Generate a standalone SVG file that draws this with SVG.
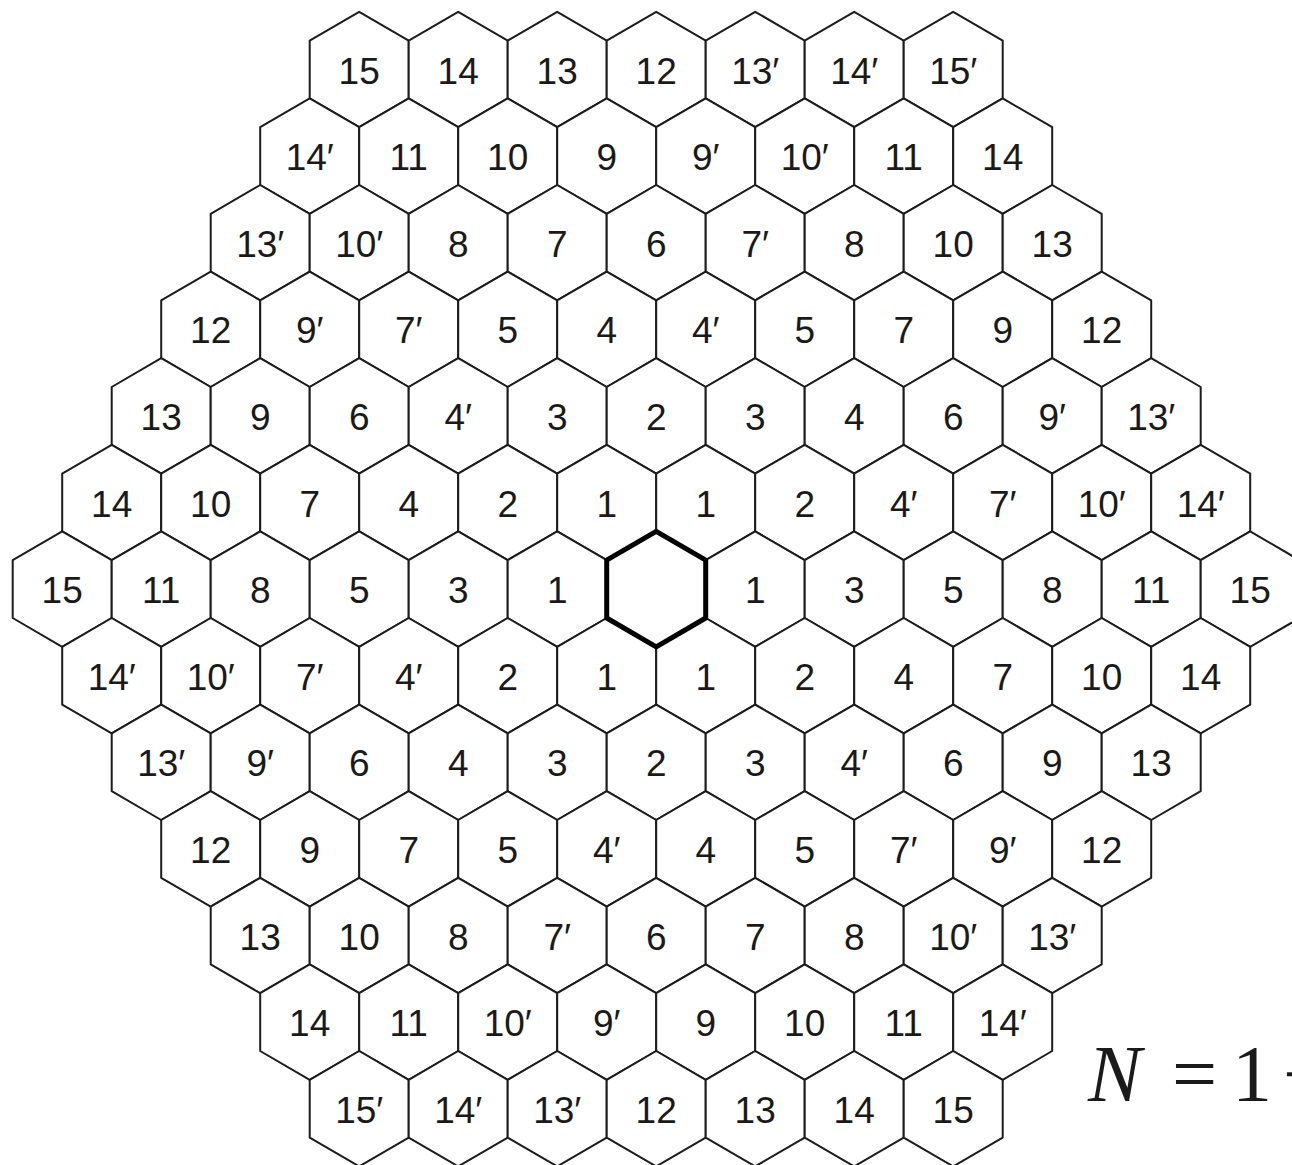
<svg xmlns="http://www.w3.org/2000/svg" xmlns:xlink="http://www.w3.org/1999/xlink" width="1292" height="1165" viewBox="0 0 1292 1165">
<style>
.h{fill:#fff;stroke:#1c1c1c;stroke-width:2;stroke-linejoin:round}
.c{fill:#fff;stroke:#000;stroke-width:5;stroke-linejoin:round}
text{font-family:"Liberation Sans",Arial,sans-serif;font-size:37px;fill:#1a1a1a;text-anchor:middle}
.f{font-family:"Liberation Serif","Times New Roman",serif;font-size:80px;fill:#1a1a1a;text-anchor:start}
</style>
<defs>
<polygon id="hex" points="0,-57.7 49.5,-28.9 49.5,28.9 0,57.7 -49.5,28.9 -49.5,-28.9"/>
</defs>
<rect width="1292" height="1165" fill="#fff"/>
<g id="nodes">
<!-- row 0 -->
<g id="n0_0" transform="translate(359.2,69.5)"><use href="#hex" class="h"/><text y="14">15</text></g>
<g id="n0_1" transform="translate(458.2,69.5)"><use href="#hex" class="h"/><text y="14">14</text></g>
<g id="n0_2" transform="translate(557.2,69.5)"><use href="#hex" class="h"/><text y="14">13</text></g>
<g id="n0_3" transform="translate(656.2,69.5)"><use href="#hex" class="h"/><text y="14">12</text></g>
<g id="n0_4" transform="translate(755.2,69.5)"><use href="#hex" class="h"/><text y="14">13′</text></g>
<g id="n0_5" transform="translate(854.2,69.5)"><use href="#hex" class="h"/><text y="14">14′</text></g>
<g id="n0_6" transform="translate(953.2,69.5)"><use href="#hex" class="h"/><text y="14">15′</text></g>
<!-- row 1 -->
<g id="n1_0" transform="translate(309.7,156.1)"><use href="#hex" class="h"/><text y="14">14′</text></g>
<g id="n1_1" transform="translate(408.7,156.1)"><use href="#hex" class="h"/><text y="14">11</text></g>
<g id="n1_2" transform="translate(507.7,156.1)"><use href="#hex" class="h"/><text y="14">10</text></g>
<g id="n1_3" transform="translate(606.7,156.1)"><use href="#hex" class="h"/><text y="14">9</text></g>
<g id="n1_4" transform="translate(705.7,156.1)"><use href="#hex" class="h"/><text y="14">9′</text></g>
<g id="n1_5" transform="translate(804.7,156.1)"><use href="#hex" class="h"/><text y="14">10′</text></g>
<g id="n1_6" transform="translate(903.7,156.1)"><use href="#hex" class="h"/><text y="14">11</text></g>
<g id="n1_7" transform="translate(1002.7,156.1)"><use href="#hex" class="h"/><text y="14">14</text></g>
<!-- row 2 -->
<g id="n2_0" transform="translate(260.2,242.7)"><use href="#hex" class="h"/><text y="14">13′</text></g>
<g id="n2_1" transform="translate(359.2,242.7)"><use href="#hex" class="h"/><text y="14">10′</text></g>
<g id="n2_2" transform="translate(458.2,242.7)"><use href="#hex" class="h"/><text y="14">8</text></g>
<g id="n2_3" transform="translate(557.2,242.7)"><use href="#hex" class="h"/><text y="14">7</text></g>
<g id="n2_4" transform="translate(656.2,242.7)"><use href="#hex" class="h"/><text y="14">6</text></g>
<g id="n2_5" transform="translate(755.2,242.7)"><use href="#hex" class="h"/><text y="14">7′</text></g>
<g id="n2_6" transform="translate(854.2,242.7)"><use href="#hex" class="h"/><text y="14">8</text></g>
<g id="n2_7" transform="translate(953.2,242.7)"><use href="#hex" class="h"/><text y="14">10</text></g>
<g id="n2_8" transform="translate(1052.2,242.7)"><use href="#hex" class="h"/><text y="14">13</text></g>
<!-- row 3 -->
<g id="n3_0" transform="translate(210.7,329.3)"><use href="#hex" class="h"/><text y="14">12</text></g>
<g id="n3_1" transform="translate(309.7,329.3)"><use href="#hex" class="h"/><text y="14">9′</text></g>
<g id="n3_2" transform="translate(408.7,329.3)"><use href="#hex" class="h"/><text y="14">7′</text></g>
<g id="n3_3" transform="translate(507.7,329.3)"><use href="#hex" class="h"/><text y="14">5</text></g>
<g id="n3_4" transform="translate(606.7,329.3)"><use href="#hex" class="h"/><text y="14">4</text></g>
<g id="n3_5" transform="translate(705.7,329.3)"><use href="#hex" class="h"/><text y="14">4′</text></g>
<g id="n3_6" transform="translate(804.7,329.3)"><use href="#hex" class="h"/><text y="14">5</text></g>
<g id="n3_7" transform="translate(903.7,329.3)"><use href="#hex" class="h"/><text y="14">7</text></g>
<g id="n3_8" transform="translate(1002.7,329.3)"><use href="#hex" class="h"/><text y="14">9</text></g>
<g id="n3_9" transform="translate(1101.7,329.3)"><use href="#hex" class="h"/><text y="14">12</text></g>
<!-- row 4 -->
<g id="n4_0" transform="translate(161.2,415.9)"><use href="#hex" class="h"/><text y="14">13</text></g>
<g id="n4_1" transform="translate(260.2,415.9)"><use href="#hex" class="h"/><text y="14">9</text></g>
<g id="n4_2" transform="translate(359.2,415.9)"><use href="#hex" class="h"/><text y="14">6</text></g>
<g id="n4_3" transform="translate(458.2,415.9)"><use href="#hex" class="h"/><text y="14">4′</text></g>
<g id="n4_4" transform="translate(557.2,415.9)"><use href="#hex" class="h"/><text y="14">3</text></g>
<g id="n4_5" transform="translate(656.2,415.9)"><use href="#hex" class="h"/><text y="14">2</text></g>
<g id="n4_6" transform="translate(755.2,415.9)"><use href="#hex" class="h"/><text y="14">3</text></g>
<g id="n4_7" transform="translate(854.2,415.9)"><use href="#hex" class="h"/><text y="14">4</text></g>
<g id="n4_8" transform="translate(953.2,415.9)"><use href="#hex" class="h"/><text y="14">6</text></g>
<g id="n4_9" transform="translate(1052.2,415.9)"><use href="#hex" class="h"/><text y="14">9′</text></g>
<g id="n4_10" transform="translate(1151.2,415.9)"><use href="#hex" class="h"/><text y="14">13′</text></g>
<!-- row 5 -->
<g id="n5_0" transform="translate(111.7,502.5)"><use href="#hex" class="h"/><text y="14">14</text></g>
<g id="n5_1" transform="translate(210.7,502.5)"><use href="#hex" class="h"/><text y="14">10</text></g>
<g id="n5_2" transform="translate(309.7,502.5)"><use href="#hex" class="h"/><text y="14">7</text></g>
<g id="n5_3" transform="translate(408.7,502.5)"><use href="#hex" class="h"/><text y="14">4</text></g>
<g id="n5_4" transform="translate(507.7,502.5)"><use href="#hex" class="h"/><text y="14">2</text></g>
<g id="n5_5" transform="translate(606.7,502.5)"><use href="#hex" class="h"/><text y="14">1</text></g>
<g id="n5_6" transform="translate(705.7,502.5)"><use href="#hex" class="h"/><text y="14">1</text></g>
<g id="n5_7" transform="translate(804.7,502.5)"><use href="#hex" class="h"/><text y="14">2</text></g>
<g id="n5_8" transform="translate(903.7,502.5)"><use href="#hex" class="h"/><text y="14">4′</text></g>
<g id="n5_9" transform="translate(1002.7,502.5)"><use href="#hex" class="h"/><text y="14">7′</text></g>
<g id="n5_10" transform="translate(1101.7,502.5)"><use href="#hex" class="h"/><text y="14">10′</text></g>
<g id="n5_11" transform="translate(1200.7,502.5)"><use href="#hex" class="h"/><text y="14">14′</text></g>
<!-- row 6 -->
<g id="n6_0" transform="translate(62.2,589.1)"><use href="#hex" class="h"/><text y="14">15</text></g>
<g id="n6_1" transform="translate(161.2,589.1)"><use href="#hex" class="h"/><text y="14">11</text></g>
<g id="n6_2" transform="translate(260.2,589.1)"><use href="#hex" class="h"/><text y="14">8</text></g>
<g id="n6_3" transform="translate(359.2,589.1)"><use href="#hex" class="h"/><text y="14">5</text></g>
<g id="n6_4" transform="translate(458.2,589.1)"><use href="#hex" class="h"/><text y="14">3</text></g>
<g id="n6_5" transform="translate(557.2,589.1)"><use href="#hex" class="h"/><text y="14">1</text></g>
<g id="n6_7" transform="translate(755.2,589.1)"><use href="#hex" class="h"/><text y="14">1</text></g>
<g id="n6_8" transform="translate(854.2,589.1)"><use href="#hex" class="h"/><text y="14">3</text></g>
<g id="n6_9" transform="translate(953.2,589.1)"><use href="#hex" class="h"/><text y="14">5</text></g>
<g id="n6_10" transform="translate(1052.2,589.1)"><use href="#hex" class="h"/><text y="14">8</text></g>
<g id="n6_11" transform="translate(1151.2,589.1)"><use href="#hex" class="h"/><text y="14">11</text></g>
<g id="n6_12" transform="translate(1250.2,589.1)"><use href="#hex" class="h"/><text y="14">15</text></g>
<!-- row 7 -->
<g id="n7_0" transform="translate(111.7,675.7)"><use href="#hex" class="h"/><text y="14">14′</text></g>
<g id="n7_1" transform="translate(210.7,675.7)"><use href="#hex" class="h"/><text y="14">10′</text></g>
<g id="n7_2" transform="translate(309.7,675.7)"><use href="#hex" class="h"/><text y="14">7′</text></g>
<g id="n7_3" transform="translate(408.7,675.7)"><use href="#hex" class="h"/><text y="14">4′</text></g>
<g id="n7_4" transform="translate(507.7,675.7)"><use href="#hex" class="h"/><text y="14">2</text></g>
<g id="n7_5" transform="translate(606.7,675.7)"><use href="#hex" class="h"/><text y="14">1</text></g>
<g id="n7_6" transform="translate(705.7,675.7)"><use href="#hex" class="h"/><text y="14">1</text></g>
<g id="n7_7" transform="translate(804.7,675.7)"><use href="#hex" class="h"/><text y="14">2</text></g>
<g id="n7_8" transform="translate(903.7,675.7)"><use href="#hex" class="h"/><text y="14">4</text></g>
<g id="n7_9" transform="translate(1002.7,675.7)"><use href="#hex" class="h"/><text y="14">7</text></g>
<g id="n7_10" transform="translate(1101.7,675.7)"><use href="#hex" class="h"/><text y="14">10</text></g>
<g id="n7_11" transform="translate(1200.7,675.7)"><use href="#hex" class="h"/><text y="14">14</text></g>
<!-- row 8 -->
<g id="n8_0" transform="translate(161.2,762.3)"><use href="#hex" class="h"/><text y="14">13′</text></g>
<g id="n8_1" transform="translate(260.2,762.3)"><use href="#hex" class="h"/><text y="14">9′</text></g>
<g id="n8_2" transform="translate(359.2,762.3)"><use href="#hex" class="h"/><text y="14">6</text></g>
<g id="n8_3" transform="translate(458.2,762.3)"><use href="#hex" class="h"/><text y="14">4</text></g>
<g id="n8_4" transform="translate(557.2,762.3)"><use href="#hex" class="h"/><text y="14">3</text></g>
<g id="n8_5" transform="translate(656.2,762.3)"><use href="#hex" class="h"/><text y="14">2</text></g>
<g id="n8_6" transform="translate(755.2,762.3)"><use href="#hex" class="h"/><text y="14">3</text></g>
<g id="n8_7" transform="translate(854.2,762.3)"><use href="#hex" class="h"/><text y="14">4′</text></g>
<g id="n8_8" transform="translate(953.2,762.3)"><use href="#hex" class="h"/><text y="14">6</text></g>
<g id="n8_9" transform="translate(1052.2,762.3)"><use href="#hex" class="h"/><text y="14">9</text></g>
<g id="n8_10" transform="translate(1151.2,762.3)"><use href="#hex" class="h"/><text y="14">13</text></g>
<!-- row 9 -->
<g id="n9_0" transform="translate(210.7,848.9)"><use href="#hex" class="h"/><text y="14">12</text></g>
<g id="n9_1" transform="translate(309.7,848.9)"><use href="#hex" class="h"/><text y="14">9</text></g>
<g id="n9_2" transform="translate(408.7,848.9)"><use href="#hex" class="h"/><text y="14">7</text></g>
<g id="n9_3" transform="translate(507.7,848.9)"><use href="#hex" class="h"/><text y="14">5</text></g>
<g id="n9_4" transform="translate(606.7,848.9)"><use href="#hex" class="h"/><text y="14">4′</text></g>
<g id="n9_5" transform="translate(705.7,848.9)"><use href="#hex" class="h"/><text y="14">4</text></g>
<g id="n9_6" transform="translate(804.7,848.9)"><use href="#hex" class="h"/><text y="14">5</text></g>
<g id="n9_7" transform="translate(903.7,848.9)"><use href="#hex" class="h"/><text y="14">7′</text></g>
<g id="n9_8" transform="translate(1002.7,848.9)"><use href="#hex" class="h"/><text y="14">9′</text></g>
<g id="n9_9" transform="translate(1101.7,848.9)"><use href="#hex" class="h"/><text y="14">12</text></g>
<!-- row 10 -->
<g id="n10_0" transform="translate(260.2,935.5)"><use href="#hex" class="h"/><text y="14">13</text></g>
<g id="n10_1" transform="translate(359.2,935.5)"><use href="#hex" class="h"/><text y="14">10</text></g>
<g id="n10_2" transform="translate(458.2,935.5)"><use href="#hex" class="h"/><text y="14">8</text></g>
<g id="n10_3" transform="translate(557.2,935.5)"><use href="#hex" class="h"/><text y="14">7′</text></g>
<g id="n10_4" transform="translate(656.2,935.5)"><use href="#hex" class="h"/><text y="14">6</text></g>
<g id="n10_5" transform="translate(755.2,935.5)"><use href="#hex" class="h"/><text y="14">7</text></g>
<g id="n10_6" transform="translate(854.2,935.5)"><use href="#hex" class="h"/><text y="14">8</text></g>
<g id="n10_7" transform="translate(953.2,935.5)"><use href="#hex" class="h"/><text y="14">10′</text></g>
<g id="n10_8" transform="translate(1052.2,935.5)"><use href="#hex" class="h"/><text y="14">13′</text></g>
<!-- row 11 -->
<g id="n11_0" transform="translate(309.7,1022.1)"><use href="#hex" class="h"/><text y="14">14</text></g>
<g id="n11_1" transform="translate(408.7,1022.1)"><use href="#hex" class="h"/><text y="14">11</text></g>
<g id="n11_2" transform="translate(507.7,1022.1)"><use href="#hex" class="h"/><text y="14">10′</text></g>
<g id="n11_3" transform="translate(606.7,1022.1)"><use href="#hex" class="h"/><text y="14">9′</text></g>
<g id="n11_4" transform="translate(705.7,1022.1)"><use href="#hex" class="h"/><text y="14">9</text></g>
<g id="n11_5" transform="translate(804.7,1022.1)"><use href="#hex" class="h"/><text y="14">10</text></g>
<g id="n11_6" transform="translate(903.7,1022.1)"><use href="#hex" class="h"/><text y="14">11</text></g>
<g id="n11_7" transform="translate(1002.7,1022.1)"><use href="#hex" class="h"/><text y="14">14′</text></g>
<!-- row 12 -->
<g id="n12_0" transform="translate(359.2,1108.7)"><use href="#hex" class="h"/><text y="14">15′</text></g>
<g id="n12_1" transform="translate(458.2,1108.7)"><use href="#hex" class="h"/><text y="14">14′</text></g>
<g id="n12_2" transform="translate(557.2,1108.7)"><use href="#hex" class="h"/><text y="14">13′</text></g>
<g id="n12_3" transform="translate(656.2,1108.7)"><use href="#hex" class="h"/><text y="14">12</text></g>
<g id="n12_4" transform="translate(755.2,1108.7)"><use href="#hex" class="h"/><text y="14">13</text></g>
<g id="n12_5" transform="translate(854.2,1108.7)"><use href="#hex" class="h"/><text y="14">14</text></g>
<g id="n12_6" transform="translate(953.2,1108.7)"><use href="#hex" class="h"/><text y="14">15</text></g>
<!-- centre -->
<g id="n6_6" transform="translate(656.2,589.1)"><use href="#hex" class="c"/></g>
</g>
<g id="formula"><text class="f" y="1101"><tspan x="1088" font-style="italic">N</tspan><tspan x="1172">=</tspan><tspan x="1232">1</tspan><tspan x="1283">−</tspan></text></g>
</svg>
